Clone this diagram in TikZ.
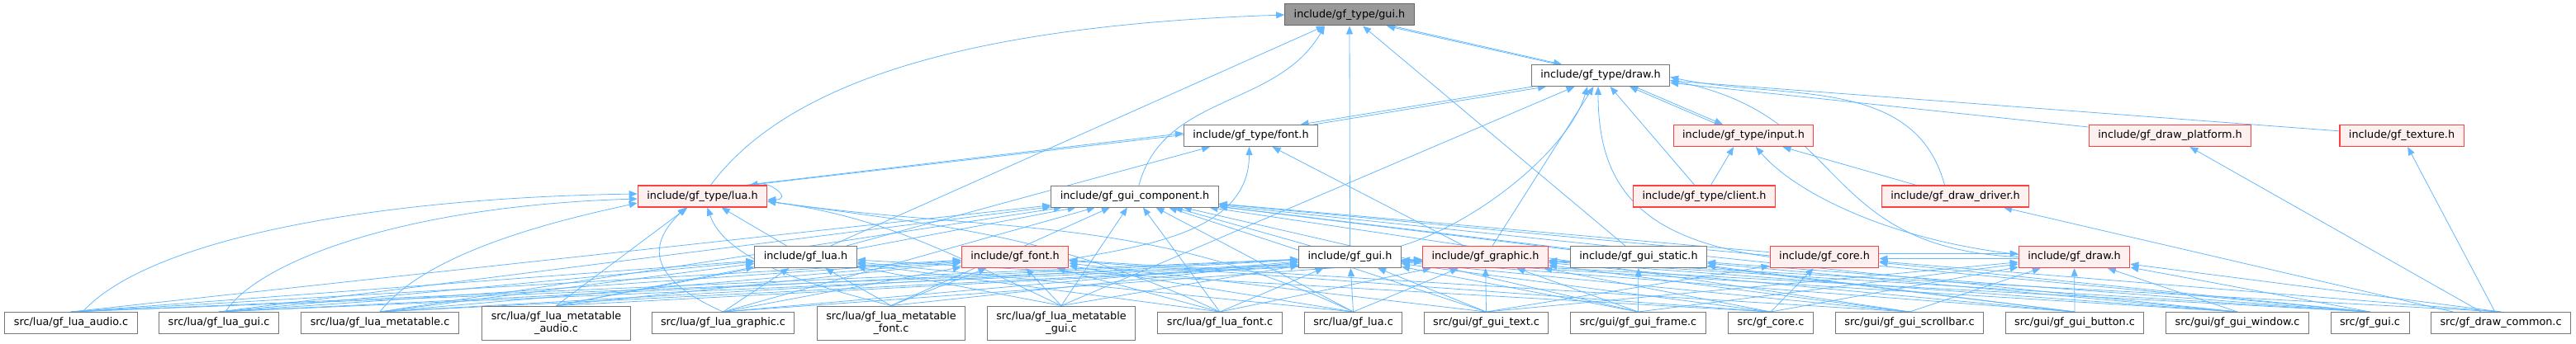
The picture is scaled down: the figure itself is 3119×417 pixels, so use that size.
\documentclass[tikz,border=0pt]{standalone}
\usepackage{fontspec}
\setmainfont{DejaVu Sans}
\usetikzlibrary{arrows.meta,backgrounds}

\definecolor{edgeblue}{HTML}{63B8FF}
\definecolor{boxgray}{HTML}{777777}
\definecolor{rootgray}{HTML}{999999}
\definecolor{rootline}{HTML}{666666}
\definecolor{cutred}{HTML}{FF4040}
\definecolor{cutfill}{HTML}{FFF0F0}
\newcommand{\filefont}{\fontsize{12.8}{15}\selectfont}

\tikzset{
  file/.style={draw=boxgray, fill=white, line width=1pt, minimum height=26pt,
    inner xsep=11pt, inner ysep=4pt, font=\filefont},
  rootfile/.style={file, draw=rootline, fill=rootgray},
  cutfile/.style={file, draw=cutred, fill=cutfill, line width=1.2pt},
  twoline/.style={align=center, minimum height=41pt},
  dep/.style={<-, draw=edgeblue, line width=0.8pt},
}

\begin{document}
\begin{tikzpicture}[x=1pt, y=-1pt, >={Triangle[length=10pt,width=8pt]}]
  \useasboundingbox (0,0) rectangle (3119,417);

  % headers
  \node[rootfile] (gui) at (1634,18) {include/gf\_type/gui.h};
  \node[file] (draw) at (1938,91.5) {include/gf\_type/draw.h};
  \node[file] (font) at (1514.5,164.5) {include/gf\_type/font.h};
  \node[cutfile] (input) at (2111,164.5) {include/gf\_type/input.h};
  \node[cutfile] (plat) at (2627.5,164.5) {include/gf\_draw\_platform.h};
  \node[cutfile] (tex) at (2908,164.5) {include/gf\_texture.h};
  \node[cutfile] (lua) at (850.5,238) {include/gf\_type/lua.h};
  \node[file] (comp) at (1374,238) {include/gf\_gui\_component.h};
  \node[cutfile] (client) at (2063.5,238) {include/gf\_type/client.h};
  \node[cutfile] (driver) at (2367.5,238) {include/gf\_draw\_driver.h};
  \node[file] (gflua) at (975.5,311.5) {include/gf\_lua.h};
  \node[cutfile] (gffont) at (1229,311.5) {include/gf\_font.h};
  \node[file] (gfgui) at (1634.5,311.5) {include/gf\_gui.h};
  \node[cutfile] (graphic) at (1798.5,311.5) {include/gf\_graphic.h};
  \node[file] (static) at (1984,311.5) {include/gf\_gui\_static.h};
  \node[cutfile] (core) at (2209,311.5) {include/gf\_core.h};
  \node[cutfile] (gfdraw) at (2511.5,311.5) {include/gf\_draw.h};

  % sources
  \node[file] (audio) at (86,391.5) {src/lua/gf\_lua\_audio.c};
  \node[file] (luagui) at (265,391.5) {src/lua/gf\_lua\_gui.c};
  \node[file] (meta) at (460,391.5) {src/lua/gf\_lua\_metatable.c};
  \node[file, twoline] (mtaudio) at (673.5,391.5) {src/lua/gf\_lua\_metatable\\\_audio.c};
  \node[file] (luagraphic) at (875.5,391.5) {src/lua/gf\_lua\_graphic.c};
  \node[file, twoline] (mtfont) at (1079,391.5) {src/lua/gf\_lua\_metatable\\\_font.c};
  \node[file, twoline] (mtgui) at (1285,391.5) {src/lua/gf\_lua\_metatable\\\_gui.c};
  \node[file] (luafont) at (1477,391.5) {src/lua/gf\_lua\_font.c};
  \node[file] (luac) at (1638.5,391.5) {src/lua/gf\_lua.c};
  \node[file] (guitext) at (1799.5,391.5) {src/gui/gf\_gui\_text.c};
  \node[file] (guiframe) at (1983.5,391.5) {src/gui/gf\_gui\_frame.c};
  \node[file] (corec) at (2144,391.5) {src/gf\_core.c};
  \node[file] (scrollbar) at (2312,391.5) {src/gui/gf\_gui\_scrollbar.c};
  \node[file] (button) at (2512,391.5) {src/gui/gf\_gui\_button.c};
  \node[file] (window) at (2709,391.5) {src/gui/gf\_gui\_window.c};
  \node[file] (gfguic) at (2869.5,391.5) {src/gf\_gui.c};
  \node[file] (common) at (3028,391.5) {src/gf\_draw\_common.c};

  \begin{scope}[on background layer]
    % header to header
    \foreach \s/\h in {gflua/gui, gfgui/gui, static/gui, client/draw, plat/draw,
        tex/draw, graphic/draw, driver/input, gflua/lua, gflua/font, graphic/font,
        gfgui/comp, static/comp, core/comp, common/plat, common/tex, common/driver}
      \draw[dep] (\h) -- (\s);
    \draw[dep] (gui.west) .. controls (1200,30) and (960,90) .. ([xshift=10pt]lua.north);
    \draw[dep] ([xshift=-30pt]gui.south) to[out=-120, in=75] ([xshift=5pt]comp.north);
    % cycles
    \draw[dep] ([xshift=45pt]gui.south) -- ([xshift=-52pt]draw.north);
    \draw[dep] ([xshift=-47pt]draw.north) -- ([xshift=52pt]gui.south);
    \draw[dep] ([xshift=-66pt]draw.south) -- ([xshift=76pt]font.north);
    \draw[dep] ([xshift=60pt]font.north) -- ([xshift=-82pt]draw.south);
    \draw[dep] ([xshift=35pt]draw.south) -- ([xshift=-31pt]input.north);
    \draw[dep] ([xshift=-25pt]input.north) -- ([xshift=41pt]draw.south);
    \draw[dep] ([yshift=3pt]font.west) -- ([xshift=-27pt]lua.north east);
    \draw[dep] ([xshift=-22pt]lua.north east) -- ([yshift=1pt]font.west);
    \draw[dep] ([yshift=-2pt]core.east) -- ([yshift=-2pt]gfdraw.west);
    \draw[dep] ([yshift=4pt]gfdraw.west) -- ([yshift=4pt]core.east);
    \draw[dep] ([yshift=-4pt]lua.east) .. controls +(32,0) and +(14,-8) .. ([xshift=-14pt]lua.north east);
    % curved includes
    \draw[dep] ([xshift=-2pt]font.south) to[out=-90, in=10] ([yshift=-3pt]gffont.east);
    \draw[dep] ([xshift=-16pt]draw.south) .. controls (1900,180) and (1790,270) .. (gfgui.north east);
    \draw[dep] ([xshift=-3pt]draw.south) .. controls (1935,230) and (1990,290) .. (core.west);
    \draw[dep] ([yshift=-2pt]draw.east) to[out=-12, in=105] ([xshift=-13pt]driver.north);
    \draw[dep] ([yshift=-6pt]draw.east) .. controls (2240,140) and (2200,300) .. (gfdraw.west);
    \draw[dep] ([xshift=15pt]input.south) .. controls (2170,230) and (2280,290) .. ([yshift=3pt]gfdraw.west);
    \draw[dep] ([xshift=-12pt]input.south) -- ([xshift=8pt]client.north);
    \draw[dep] ([yshift=3pt]lua.west) .. controls (450,240) and (180,290) .. ([xshift=14pt]audio.north);
    \draw[dep] ([yshift=-3pt]lua.west) .. controls (480,250) and (310,320) .. ([xshift=8pt]luagui.north);
    \draw[dep] ([yshift=-8pt]lua.west) .. controls (700,262) and (520,300) .. (meta.north);
    \draw[dep] ([xshift=-20pt]lua.south) .. controls (780,300) and (790,340) .. (luagraphic.north);
    \draw[dep] ([xshift=6pt]lua.south) .. controls (880,320) and (1000,350) .. (mtfont.north);
    \foreach \s in {mtgui, luafont, luac}
      \draw[dep] ([yshift=-6pt]lua.east) to[out=-8, in=155] (\s.north);

    % lua sources
    \foreach \s/\h in {
        audio/gflua, audio/comp, audio/gffont, audio/gfgui, audio/graphic,
        luagui/gflua, luagui/comp, luagui/gffont, luagui/gfgui, luagui/graphic,
        meta/gflua, meta/comp, meta/gffont, meta/gfgui, meta/graphic,
        mtaudio/lua, mtaudio/gflua, mtaudio/comp, mtaudio/gffont, mtaudio/graphic,
        luagraphic/gflua, luagraphic/comp, luagraphic/gffont, luagraphic/gfgui, luagraphic/graphic,
        mtfont/gflua, mtfont/comp, mtfont/gffont, mtfont/gfgui,
        mtgui/gflua, mtgui/comp, mtgui/gffont, mtgui/gfgui, mtgui/draw,
        luafont/gflua, luafont/comp, luafont/gffont, luafont/gfgui, luafont/graphic,
        luac/gflua, luac/gfgui, luac/graphic, luac/gffont, luac/comp}
      \draw[dep] (\h) -- (\s.north);

    % gui and core sources
    \foreach \s/\h in {
        guitext/graphic, guitext/gfgui, guitext/comp, guitext/gffont, guitext/gfdraw, guitext/core,
        guiframe/graphic, guiframe/gfgui, guiframe/comp, guiframe/gfdraw, guiframe/static,
        corec/core, corec/gfgui, corec/graphic, corec/gfdraw, corec/gflua, corec/gffont,
        scrollbar/gfgui, scrollbar/graphic, scrollbar/comp, scrollbar/gfdraw, scrollbar/gffont,
        button/gfdraw, button/gfgui, button/graphic, button/comp, button/static,
        window/gfdraw, window/gfgui, window/graphic, window/comp, window/static,
        gfguic/gfgui, gfguic/graphic, gfguic/static, gfguic/gfdraw, gfguic/comp, gfguic/core,
        common/gfdraw, common/graphic, common/core}
      \draw[dep] (\h) -- (\s.north);
  \end{scope}
\end{tikzpicture}
\end{document}
